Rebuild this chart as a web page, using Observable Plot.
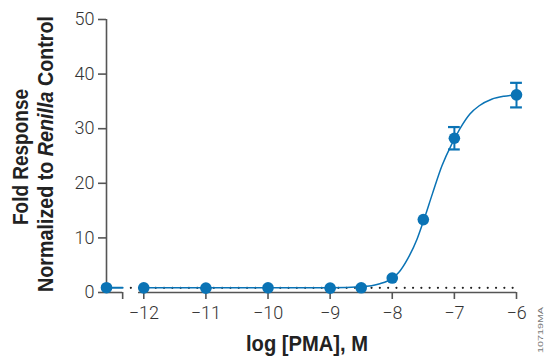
<!DOCTYPE html>
<html>
<head>
<meta charset="utf-8">
<script src="https://cdn.jsdelivr.net/npm/d3@7"></script>
<script src="https://cdn.jsdelivr.net/npm/@observablehq/plot@0.6"></script>
<style>
  html, body { margin: 0; padding: 0; background: #fff; }
  #chart svg { display: block; }
</style>
</head>
<body>
<div id="chart"></div>
<script>
// ---- data ----
// log [PMA] (first entry = untreated control drawn at the broken axis origin)
const doseLog      = [-12.6, -12, -11, -10, -9, -8.5, -8, -7.5, -7, -6];
const foldResponse = [0.88, 0.85, 0.8, 0.86, 0.8, 0.86, 2.65, 13.35, 28.25, 36.2];
// error bars
const errDose = [-7, -6];
const errLow  = [26.2, 33.9];
const errHigh = [30.3, 38.4];
// fitted dose–response curve
const fitDose = [-12, -11, -10, -9, -8.5, -8.2, -8, -7.9, -7.75, -7.6, -7.5, -7.35, -7.2, -7.05, -7, -6.9, -6.75, -6.6, -6.4, -6.2, -6];
const fitResp = [0.85, 0.85, 0.85, 0.88, 1.05, 1.6, 2.6, 3.6, 6.2, 9.8, 13.0, 18.2, 23.2, 27.0, 28.1, 30.2, 32.7, 34.2, 35.4, 35.95, 36.2];
// control segment left of the axis break
const ctrlDose = [-12.6, -12.34];
const ctrlResp = [0.88, 0.88];
// dotted baseline
const baseDose = [-12.2, -6];
const baseResp = 0.86;
// axis ticks
const xTicks = [-12, -11, -10, -9, -8, -7, -6];
const xTickLabels = ["\u221212", "\u221211", "\u221210", "\u22129", "\u22128", "\u22127", "\u22126"];
const xBreakTick = -12.34;
const xAxisParts = [[-12.6, -12.34], [-12.085, -6]];
const yTicks = [0, 10, 20, 30, 40, 50];
// titles
const yTitle1 = "Fold Response";
const yTitle2 = ["Normalized to ", "Renilla", " Control"];
const xTitle = "log [PMA], M";
const figCode = "10719MA";

const blue = "#0a73b5";
const axisGray = "#555";

const points = doseLog.map((x, i) => ({x, y: foldResponse[i]}));
const errs = errDose.map((x, i) => ({x, lo: errLow[i], hi: errHigh[i]}));
const fit = fitDose.map((x, i) => ({x, y: fitResp[i]}));
const ctrl = ctrlDose.map((x, i) => ({x, y: ctrlResp[i]}));
const axisSegs = xAxisParts.map(([a, b]) => ({x1: a, x2: b}));
const capHalf = 0.095;

const tickFont = "Roboto, 'Liberation Sans', sans-serif";
const titleFont = "'Liberation Sans', Arial, sans-serif";

const plot = Plot.plot({
  width: 547,
  height: 358,
  marginLeft: 106,
  marginRight: 31,
  marginTop: 19,
  marginBottom: 66,
  x: {domain: [-12.6, -6]},
  y: {domain: [0, 50]},
  style: {fontFamily: tickFont, fontSize: "18px", color: "#333", background: "#fff", overflow: "visible"},
  marks: [
    // dotted baseline
    Plot.ruleY([baseResp], {x1: baseDose[0], x2: baseDose[1], stroke: "#222", strokeWidth: 2.2,
      strokeDasharray: "0 8.3", strokeLinecap: "round"}),
    // axes
    Plot.ruleX([doseLog[0]], {y1: yTicks[0], y2: yTicks[yTicks.length - 1], stroke: axisGray, strokeWidth: 1.6}),
    Plot.ruleY(axisSegs, {x1: "x1", x2: "x2", y: 0, stroke: axisGray, strokeWidth: 1.6}),
    Plot.axisY({ticks: yTicks, tickSize: 8, tickPadding: 4, label: null, stroke: axisGray,
      strokeWidth: 1.6, fontWeight: 300, fontSize: 18}),
    Plot.axisX({ticks: [xBreakTick, ...xTicks], tickSize: 7, tickPadding: 7, label: null, stroke: axisGray,
      strokeWidth: 1.6, fontWeight: 300, fontSize: 18,
      tickFormat: d => { const i = xTicks.indexOf(d); return i < 0 ? "" : xTickLabels[i]; }}),
    // fitted curve
    Plot.line(fit, {x: "x", y: "y", stroke: blue, strokeWidth: 1.5, curve: "monotone-x"}),
    Plot.line(ctrl, {x: "x", y: "y", stroke: blue, strokeWidth: 2}),
    // error bars
    Plot.ruleX(errs, {x: "x", y1: "lo", y2: "hi", stroke: blue, strokeWidth: 2}),
    Plot.ruleY(errs, {y: "lo", x1: d => d.x - capHalf, x2: d => d.x + capHalf, stroke: blue, strokeWidth: 2.2}),
    Plot.ruleY(errs, {y: "hi", x1: d => d.x - capHalf, x2: d => d.x + capHalf, stroke: blue, strokeWidth: 2.2}),
    // data points
    Plot.dot(points, {x: "x", y: "y", r: 5.8, fill: blue, stroke: "none"})
  ]
});

const svg = d3.select(plot);
function titleText(sel, size, len) {
  return sel.attr("text-anchor", "middle")
    .attr("textLength", len).attr("lengthAdjust", "spacingAndGlyphs")
    .style("font-family", titleFont).style("font-weight", "bold")
    .style("font-size", size + "px").style("fill", "#222");
}
// y title (two lines, rotated)
titleText(svg.append("text").attr("transform", "translate(28,157) rotate(-90)"), 22, 136).text(yTitle1);
const t2 = titleText(svg.append("text").attr("transform", "translate(53,154) rotate(-90)"), 22, 276);
t2.append("tspan").text(yTitle2[0]);
t2.append("tspan").style("font-style", "italic").text(yTitle2[1]);
t2.append("tspan").text(yTitle2[2]);
// x title
titleText(svg.append("text").attr("x", 307).attr("y", 351), 22, 122).text(xTitle);
// figure code
svg.append("text")
  .attr("transform", "translate(543,330) rotate(-90)")
  .attr("text-anchor", "middle")
  .attr("textLength", 46).attr("lengthAdjust", "spacingAndGlyphs")
  .style("font-family", "'Liberation Sans', sans-serif").style("font-size", "8px").style("fill", "#777")
  .text(figCode);

document.getElementById("chart").appendChild(plot);
</script>
</body>
</html>
